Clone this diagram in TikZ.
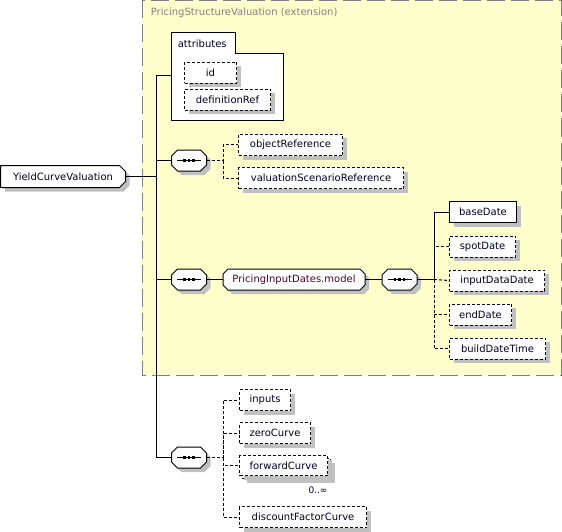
\documentclass[tikz,border=0pt]{standalone}
\usepackage{fontspec}
\setmainfont{DejaVu Sans}
\usetikzlibrary{shadows}
\definecolor{extfill}{RGB}{255,255,204}
\definecolor{extline}{RGB}{128,128,128}
\definecolor{shade}{RGB}{192,192,192}
\definecolor{grptext}{RGB}{80,0,40}
\definecolor{elemtext}{RGB}{0,0,32}

% box with cut corners, left and right cut set apart
\makeatletter
\pgfkeys{/pgf/.cd,chamf left/.initial=5pt,chamf right/.initial=5pt}
\pgfdeclareshape{chamfbox}{
  \inheritsavedanchors[from=rectangle]
  \inheritanchorborder[from=rectangle]
  \inheritanchor[from=rectangle]{center}
  \inheritanchor[from=rectangle]{north}
  \inheritanchor[from=rectangle]{south}
  \inheritanchor[from=rectangle]{east}
  \inheritanchor[from=rectangle]{west}
  \inheritanchor[from=rectangle]{north east}
  \inheritanchor[from=rectangle]{north west}
  \inheritanchor[from=rectangle]{south east}
  \inheritanchor[from=rectangle]{south west}
  \backgroundpath{
    \pgfmathsetlengthmacro\chcl{\pgfkeysvalueof{/pgf/chamf left}}
    \pgfmathsetlengthmacro\chcr{\pgfkeysvalueof{/pgf/chamf right}}
    \southwest \edef\chxl{\the\pgf@x}\edef\chyb{\the\pgf@y}
    \northeast \edef\chxr{\the\pgf@x}\edef\chyt{\the\pgf@y}
    \pgfpathmoveto{\pgfqpoint{\dimexpr\chxl+\chcl\relax}{\chyt}}
    \pgfpathlineto{\pgfqpoint{\dimexpr\chxr-\chcr\relax}{\chyt}}
    \pgfpathlineto{\pgfqpoint{\chxr}{\dimexpr\chyt-\chcr\relax}}
    \pgfpathlineto{\pgfqpoint{\chxr}{\dimexpr\chyb+\chcr\relax}}
    \pgfpathlineto{\pgfqpoint{\dimexpr\chxr-\chcr\relax}{\chyb}}
    \pgfpathlineto{\pgfqpoint{\dimexpr\chxl+\chcl\relax}{\chyb}}
    \pgfpathlineto{\pgfqpoint{\chxl}{\dimexpr\chyb+\chcl\relax}}
    \pgfpathlineto{\pgfqpoint{\chxl}{\dimexpr\chyt-\chcl\relax}}
    \pgfpathclose
  }
}
\makeatother

\begin{document}
\begin{tikzpicture}[x=1pt,y=-1pt,line width=1pt,
  font=\fontsize{10}{12}\selectfont,text=elemtext,
  shady/.style={general shadow={fill=shade,shadow xshift=4pt,shadow yshift=-4pt}},
  req/.style={rectangle,draw,fill=white,anchor=north west,inner sep=0pt,
    minimum height=21pt,minimum width=#1,shady},
  opt/.style={req=#1,dash pattern=on 3pt off 2pt},
  optln/.style={dash pattern=on 3pt off 2pt},
  seq/.style={chamfbox,chamf left=6pt,chamf right=6pt,draw,fill=white,
    inner sep=0pt,minimum width=34pt,minimum height=20pt,shady,
    path picture={
      \draw[black] ([xshift=-12pt]path picture bounding box.center)
        -- ([xshift=12pt]path picture bounding box.center);
      \foreach \dx in {-4.5,0,4.5}
        \fill[black] ([xshift=\dx pt]path picture bounding box.center) ++(-1.25,-1.25) rectangle ++(2.5,2.5);
    }},
  grp/.style={chamfbox,draw,fill=white,inner sep=0pt,minimum height=20pt,
    minimum width=#1,shady}]

\useasboundingbox (0,0) rectangle (562,532);

% extension box
\draw[extline,fill=extfill,dash pattern=on 18pt off 6pt] (142,0.5) rectangle (561,375);
\node[anchor=west,text=extline] (exttitle) at (147,13) {PricingStructureValuation (extension)};

% attributes
\node[fill=white,anchor=north west,minimum width=111pt,minimum height=66pt,inner sep=0pt] (attrbody) at (171,54) {};
\node[fill=white,anchor=north west,minimum width=63pt,minimum height=21pt,inner sep=0pt] (attrtab) at (171,33) {};
\draw (attrbody.south west) |- (attrtab.north east) |- (attrbody.north east) -- (attrbody.south east) -- cycle;
\node[anchor=west] (attrlabel) at (174,43.5) {attributes};
\node[opt=52pt] (id) at (184,62) {id};
\node[opt=86pt] (defref) at (184,89) {definitionRef};
\coordinate (attrin) at (171,76);

% root
\node[grp=124pt,chamf left=0pt,chamf right=6pt,minimum height=21pt,anchor=west] (root) at (0.5,176.5) {YieldCurveValuation};
\coordinate (trunk) at (156,176.5);

% first sequence
\node[seq] (seqa) at (189,160.5) {};
\node[opt=104pt] (objref) at (238,134) {objectReference};
\node[opt=165pt] (valref) at (238,167) {valuationScenarioReference};
\coordinate (forka) at (223,160.5);

% second sequence and group
\node[seq] (seqb) at (189,279.5) {};
\node[grp=141pt,text=grptext,anchor=west] (dates) at (223,279.5) {PricingInputDates.model};
\node[seq] (seqc) at (399.5,279.5) {};
\node[req=67pt] (basedate) at (449,201) {baseDate};
\node[opt=66pt] (spotdate) at (449,235.5) {spotDate};
\node[opt=95pt] (inputdd) at (449,269.5) {inputDataDate};
\node[opt=62pt] (enddate) at (449,303.5) {endDate};
\node[opt=96pt] (builddt) at (449,337.5) {buildDateTime};
\coordinate (forkc) at (434,279.5);

% third sequence
\node[seq] (seqd) at (189,457.5) {};
\node[opt=51pt] (inputs) at (239,389) {inputs};
\node[opt=71pt] (zerocurve) at (239,422) {zeroCurve};
\node[opt=88pt,minimum height=20pt] (fwdback) at (242,458) {};
\node[opt=88pt,minimum height=20pt,general shadow={}] (fwdcurve) at (239,455) {forwardCurve};
\node[font=\fontsize{9}{11}\selectfont] (fwdocc) at (318,490) {0..∞};
\node[opt=127pt] (dfcurve) at (239,506) {discountFactorCurve};
\coordinate (forkd) at (223,457.5);

% connectors
\draw (root.east) -- (trunk);
\draw (trunk) |- (attrin);
\draw (trunk) |- (seqa.west);
\draw (trunk) |- (seqb.west);
\draw (trunk) |- (seqd.west);
\draw[optln] (seqa.east) -- (forka) |- (objref.west);
\draw[optln] (forka) |- (valref.west);
\draw (seqb.east) -- (dates.west);
\draw (dates.east) -- (seqc.west);
\draw (seqc.east) -- (forkc) |- (basedate.west);
\draw[optln] (forkc) |- (spotdate.west);
\draw[optln] (forkc) -- (inputdd.west);
\draw[optln] (forkc) |- (enddate.west);
\draw[optln] (forkc) |- (builddt.west);
\draw[optln] (seqd.east) -- (forkd) |- (inputs.west);
\draw[optln] (forkd) |- (zerocurve.west);
\draw[optln] (forkd) |- (fwdcurve.west);
\draw[optln] (forkd) |- (dfcurve.west);
\end{tikzpicture}
\end{document}
